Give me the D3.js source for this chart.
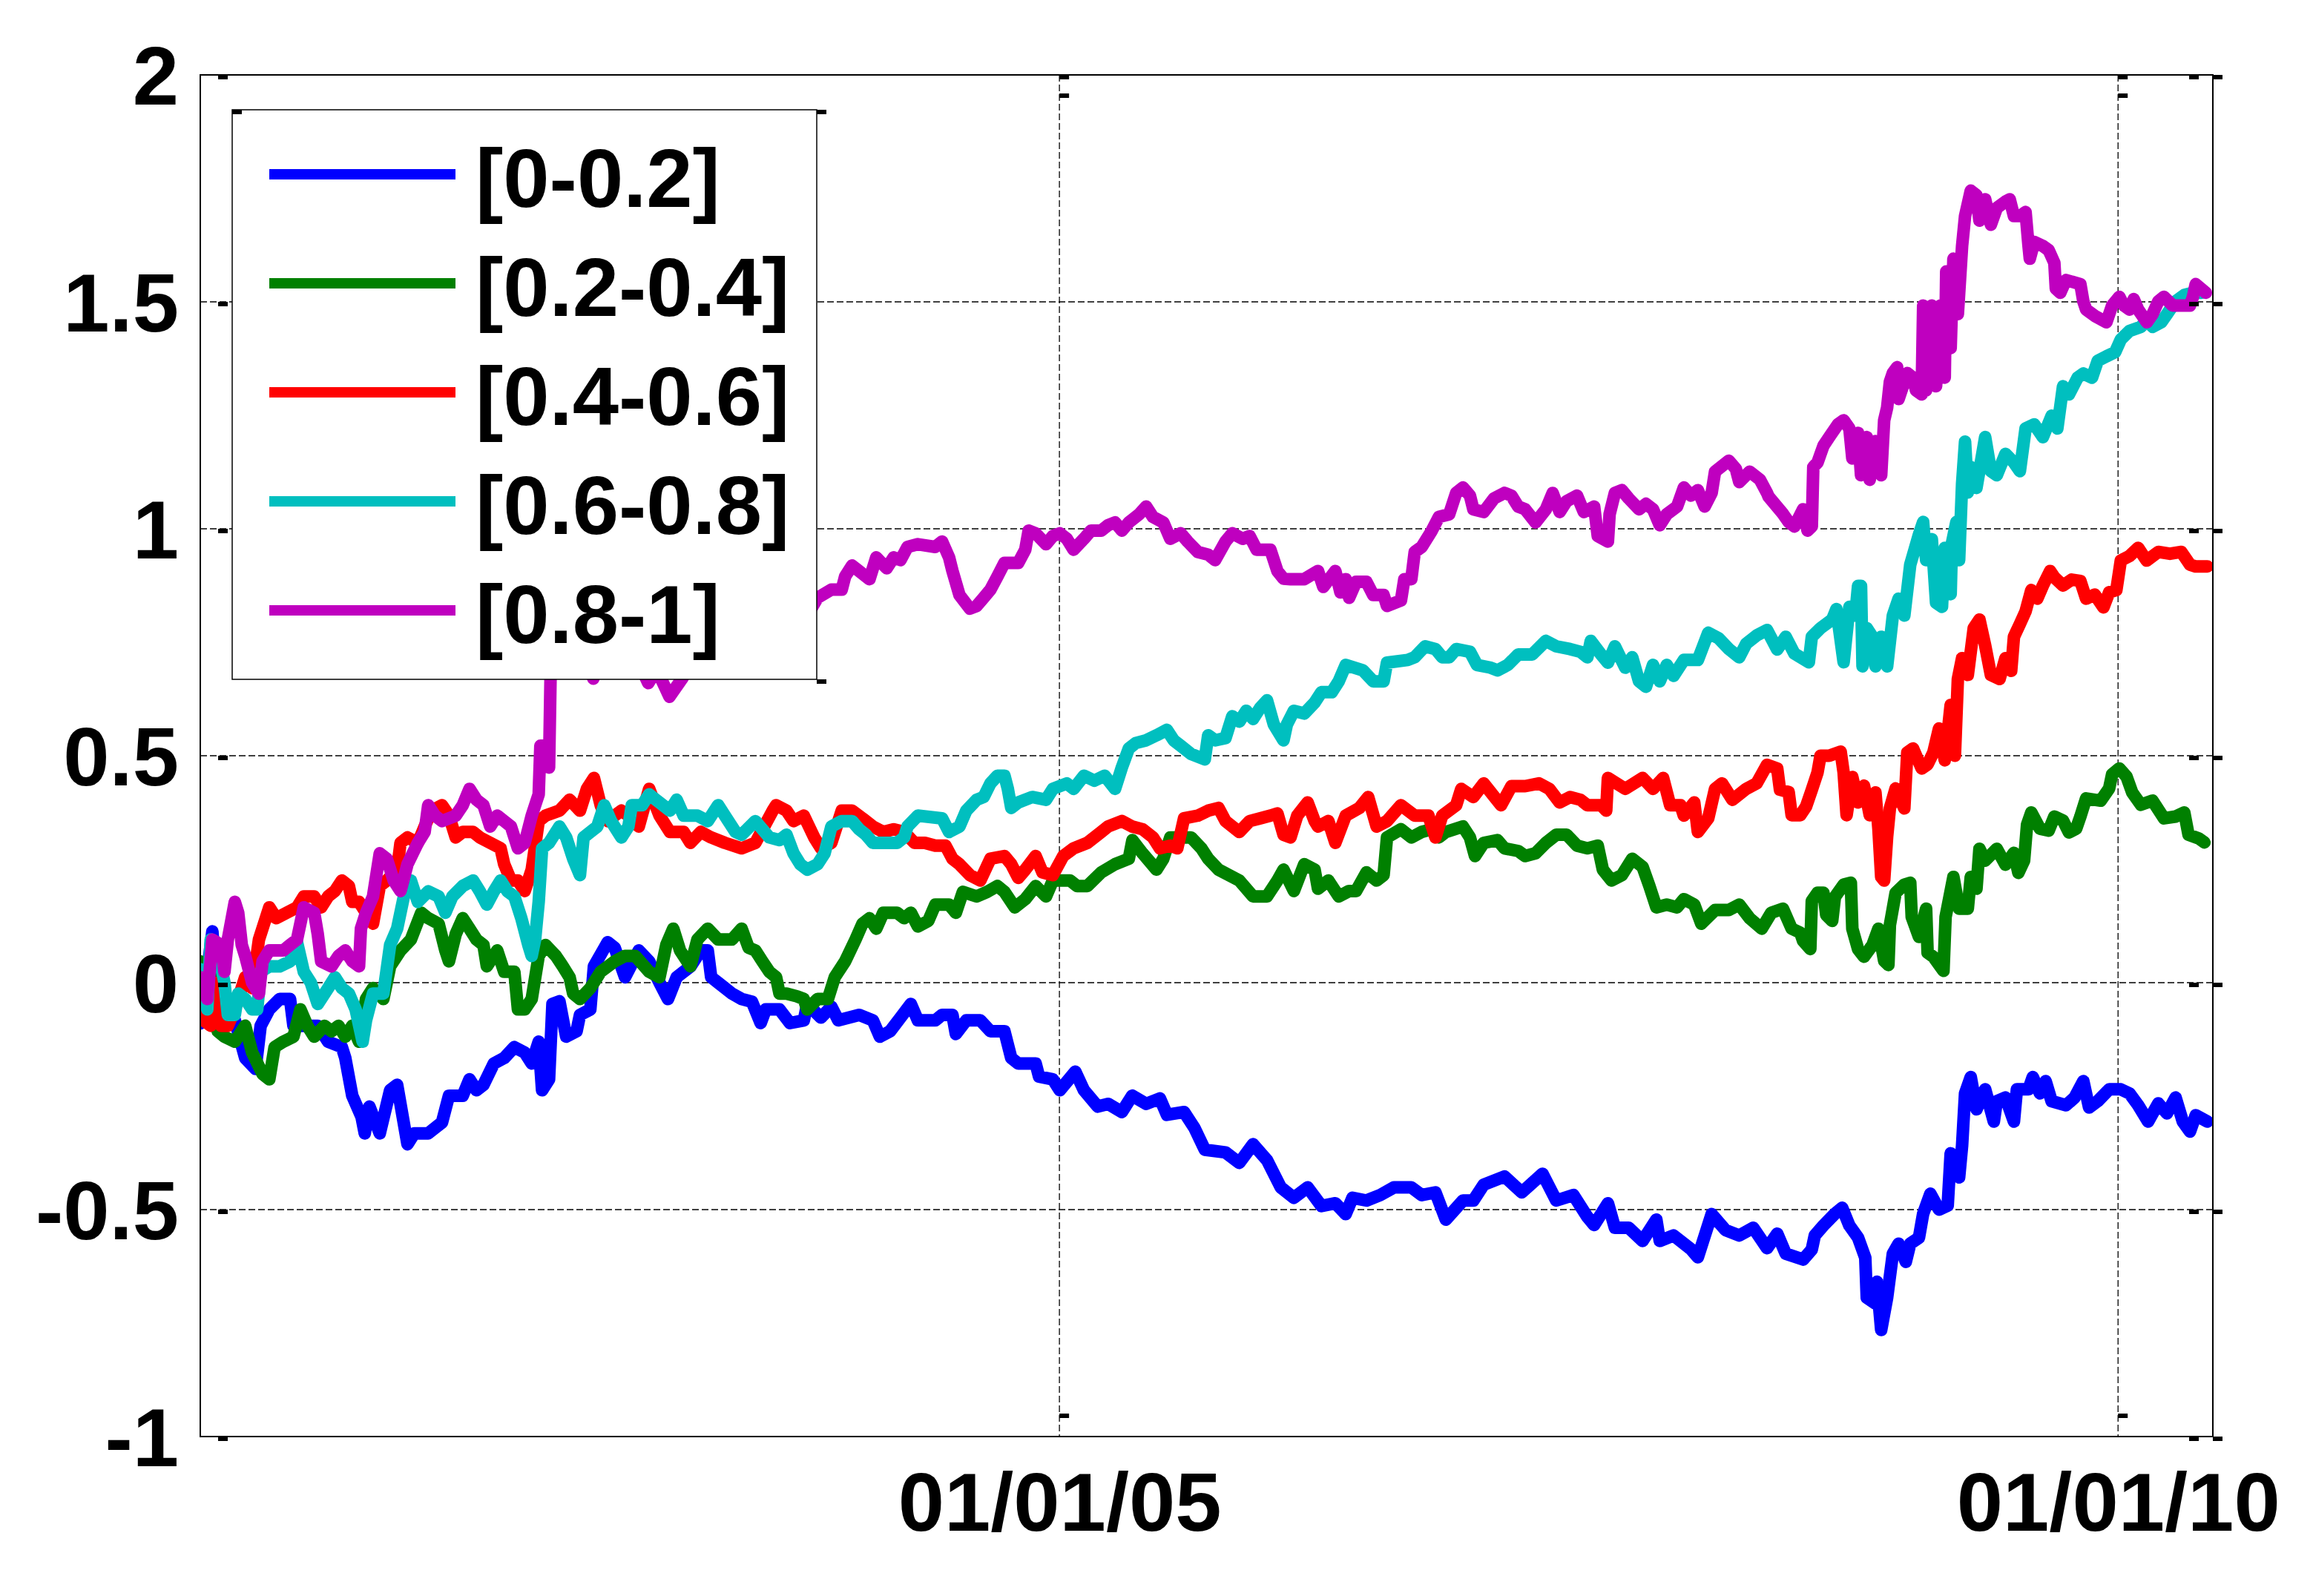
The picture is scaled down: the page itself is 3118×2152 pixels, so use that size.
<!DOCTYPE html>
<html>
<head>
<meta charset="utf-8">
<script src="https://cdn.jsdelivr.net/npm/d3@7"></script>
<style>
  html, body { margin: 0; padding: 0; background: #fff; }
  svg { display: block; }
  text { font-family: "Liberation Sans", Arial, sans-serif; font-weight: bold; }
</style>
</head>
<body>
<svg id="chart"></svg>
<script>
// series names (legend) and colours
var labels = ["[0-0.2]", "[0.2-0.4]", "[0.4-0.6]", "[0.6-0.8]", "[0.8-1]"];
var colors = ["#0000ff", "#008000", "#ff0000", "#00bfbf", "#bf00bf"];

var yTicks = [-1, -0.5, 0, 0.5, 1, 1.5, 2];
var xTicks = ["2005-01-01", "2010-01-01"];
var xStart = 2000.943, xEnd = 2010.448;   // decimal years

// [decimal year, value]
var band_0_02 = [[2000.943,-0.09],[2000.975,0.02],[2001.000,0.113],[2001.033,-0.107],[2001.057,-0.047],[2001.106,-0.083],[2001.155,-0.166],[2001.204,-0.19],[2001.228,-0.095],[2001.269,-0.059],[2001.318,-0.036],[2001.367,-0.036],[2001.383,-0.095],[2001.498,-0.095],[2001.547,-0.13],[2001.612,-0.142],[2001.628,-0.166],[2001.661,-0.249],[2001.705,-0.296],[2001.72,-0.332],[2001.742,-0.273],[2001.791,-0.332],[2001.84,-0.237],[2001.873,-0.225],[2001.922,-0.356],[2001.954,-0.332],[2002.02,-0.332],[2002.085,-0.308],[2002.118,-0.249],[2002.183,-0.249],[2002.215,-0.213],[2002.248,-0.237],[2002.281,-0.225],[2002.33,-0.178],[2002.379,-0.166],[2002.427,-0.142],[2002.476,-0.154],[2002.509,-0.178],[2002.542,-0.13],[2002.558,-0.237],[2002.591,-0.213],[2002.607,-0.047],[2002.64,-0.041],[2002.672,-0.119],[2002.721,-0.107],[2002.737,-0.071],[2002.786,-0.059],[2002.803,0.036],[2002.868,0.089],[2002.901,0.077],[2002.95,0.012],[2003.015,0.071],[2003.064,0.047],[2003.113,0.0],[2003.153,-0.036],[2003.194,0.012],[2003.26,0.036],[2003.308,0.071],[2003.341,0.071],[2003.357,0.012],[2003.39,0.0],[2003.455,-0.024],[2003.501,-0.036],
  [2003.55,-0.042],[2003.591,-0.089],[2003.615,-0.059],[2003.68,-0.059],[2003.729,-0.089],[2003.795,-0.083],[2003.811,-0.047],[2003.876,-0.077],[2003.925,-0.053],[2003.958,-0.083],[2004.056,-0.071],[2004.121,-0.083],[2004.154,-0.119],[2004.202,-0.107],[2004.251,-0.077],[2004.3,-0.047],[2004.333,-0.083],[2004.415,-0.083],[2004.447,-0.071],[2004.496,-0.071],[2004.512,-0.113],[2004.561,-0.083],[2004.627,-0.083],[2004.675,-0.107],[2004.741,-0.107],[2004.773,-0.166],[2004.806,-0.178],[2004.888,-0.178],[2004.904,-0.207],[2004.969,-0.213],[2005.002,-0.237],[2005.075,-0.196],[2005.116,-0.237],[2005.181,-0.273],[2005.23,-0.267],[2005.295,-0.285],[2005.344,-0.249],[2005.41,-0.267],[2005.475,-0.255],[2005.508,-0.291],[2005.589,-0.285],[2005.638,-0.32],[2005.687,-0.368],[2005.785,-0.374],[2005.85,-0.397],[2005.915,-0.356],[2005.981,-0.391],[2006.046,-0.451],
  [2006.108,-0.474],[2006.173,-0.451],[2006.238,-0.492],[2006.304,-0.486],[2006.353,-0.51],[2006.385,-0.474],[2006.451,-0.48],[2006.516,-0.468],[2006.581,-0.451],[2006.663,-0.451],[2006.712,-0.468],[2006.777,-0.462],[2006.826,-0.522],[2006.907,-0.48],[2006.956,-0.48],[2007.005,-0.445],[2007.103,-0.427],[2007.185,-0.462],[2007.283,-0.421],[2007.348,-0.48],[2007.429,-0.468],[2007.495,-0.516],[2007.527,-0.534],[2007.592,-0.486],[2007.625,-0.54],[2007.69,-0.54],[2007.756,-0.569],[2007.821,-0.522],[2007.837,-0.569],[2007.902,-0.557],[2007.984,-0.587],[2008.017,-0.605],[2008.082,-0.51],[2008.147,-0.545],[2008.212,-0.557],[2008.278,-0.54],[2008.343,-0.585],
  [2008.391,-0.553],[2008.431,-0.597],[2008.513,-0.61],[2008.554,-0.588],[2008.568,-0.557],[2008.609,-0.535],[2008.663,-0.509],[2008.697,-0.496],[2008.731,-0.535],[2008.772,-0.562],[2008.806,-0.606],[2008.813,-0.694],[2008.854,-0.707],[2008.861,-0.659],[2008.881,-0.765],[2008.909,-0.694],[2008.936,-0.597],[2008.963,-0.575],[2008.997,-0.615],[2009.018,-0.575],[2009.059,-0.562],[2009.079,-0.509],[2009.113,-0.465],[2009.154,-0.5],[2009.195,-0.491],[2009.209,-0.376],[2009.249,-0.429],[2009.263,-0.359],[2009.277,-0.244],[2009.304,-0.208],[2009.331,-0.279],[2009.372,-0.235],[2009.413,-0.306],[2009.427,-0.261],[2009.468,-0.253],[2009.508,-0.306],[2009.522,-0.235],[2009.577,-0.235],[2009.597,-0.208],[2009.631,-0.244],[2009.658,-0.217],[2009.686,-0.261],[2009.754,-0.27],[2009.795,-0.253],[2009.836,-0.217],[2009.863,-0.275],[2009.904,-0.261],[2009.958,-0.235],[2010.013,-0.235],[2010.054,-0.244],[2010.095,-0.27],[2010.142,-0.306],[2010.19,-0.266],[2010.231,-0.288],[2010.272,-0.253],[2010.306,-0.306],[2010.34,-0.328],[2010.367,-0.292],[2010.422,-0.306]];

var band_02_04 = [[2000.943,0.047],[2000.992,0.02],[2001.025,-0.107],[2001.057,-0.119],[2001.106,-0.13],[2001.155,-0.095],[2001.188,-0.154],[2001.237,-0.201],[2001.269,-0.213],[2001.294,-0.142],[2001.335,-0.13],[2001.383,-0.119],[2001.416,-0.059],[2001.449,-0.095],[2001.481,-0.119],[2001.53,-0.095],[2001.563,-0.107],[2001.596,-0.095],[2001.628,-0.119],[2001.661,-0.095],[2001.693,-0.13],[2001.726,-0.036],[2001.759,-0.012],[2001.808,-0.036],[2001.84,0.036],[2001.889,0.071],[2001.938,0.095],[2001.987,0.154],[2002.02,0.142],[2002.069,0.13],[2002.101,0.071],[2002.118,0.047],[2002.15,0.107],[2002.183,0.142],[2002.215,0.119],[2002.248,0.095],[2002.281,0.083],[2002.297,0.036],[2002.346,0.071],[2002.379,0.024],[2002.427,0.024],[2002.444,-0.059],[2002.476,-0.059],[2002.509,-0.036],[2002.542,0.059],[2002.574,0.083],[2002.623,0.059],[2002.656,0.036],[2002.688,0.012],[2002.705,-0.024],[2002.737,-0.036],[2002.786,-0.012],[2002.835,0.024],[2002.901,0.047],[2002.95,0.059],[2002.998,0.059],[2003.064,0.024],[2003.113,0.012],[2003.145,0.083],[2003.178,0.119],[2003.21,0.071],[2003.259,0.036],[2003.292,0.095],[2003.341,0.119],[2003.39,0.095],[2003.455,0.095],[2003.501,0.119],
  [2003.534,0.077],[2003.566,0.071],[2003.599,0.047],[2003.632,0.024],[2003.664,0.012],[2003.68,-0.024],[2003.713,-0.024],[2003.762,-0.03],[2003.795,-0.036],[2003.811,-0.059],[2003.86,-0.036],[2003.909,-0.036],[2003.941,0.012],[2003.99,0.047],[2004.039,0.095],[2004.072,0.13],[2004.105,0.142],[2004.137,0.119],[2004.17,0.154],[2004.235,0.154],[2004.268,0.142],[2004.3,0.154],[2004.333,0.124],[2004.382,0.136],[2004.415,0.172],[2004.48,0.172],[2004.512,0.154],[2004.545,0.2],[2004.61,0.19],[2004.659,0.2],[2004.708,0.213],[2004.741,0.2],[2004.79,0.166],[2004.839,0.184],[2004.888,0.213],[2004.937,0.19],[2004.969,0.225],[2005.051,0.225],[2005.083,0.213],[2005.132,0.213],[2005.198,0.243],[2005.263,0.261],[2005.328,0.273],[2005.345,0.314],[2005.393,0.285],[2005.459,0.249],[2005.491,0.273],[2005.524,0.32],[2005.573,0.32],[2005.622,0.32],[2005.671,0.296],[2005.703,0.273],[2005.752,0.249],[2005.85,0.225],[2005.915,0.19],[2005.981,0.19],[2006.03,0.225],[2006.059,0.249],
  [2006.108,0.202],[2006.157,0.261],[2006.206,0.249],[2006.222,0.207],[2006.271,0.225],[2006.32,0.19],[2006.369,0.202],[2006.402,0.202],[2006.451,0.243],[2006.499,0.225],[2006.532,0.237],[2006.548,0.32],[2006.614,0.338],[2006.663,0.32],[2006.712,0.332],[2006.76,0.338],[2006.793,0.32],[2006.826,0.332],[2006.907,0.344],[2006.94,0.32],[2006.964,0.279],[2007.005,0.308],[2007.07,0.314],[2007.103,0.296],[2007.168,0.29],[2007.201,0.279],[2007.25,0.285],[2007.299,0.308],[2007.348,0.326],[2007.397,0.326],[2007.446,0.302],[2007.495,0.296],[2007.544,0.302],[2007.568,0.249],[2007.609,0.225],[2007.658,0.237],[2007.707,0.273],[2007.756,0.255],[2007.788,0.213],[2007.821,0.166],[2007.87,0.172],[2007.919,0.166],[2007.951,0.184],[2008.0,0.172],[2008.033,0.13],[2008.098,0.16],[2008.163,0.16],[2008.212,0.172],[2008.261,0.142],[2008.318,0.119],
  [2008.363,0.154],[2008.418,0.163],[2008.459,0.119],[2008.5,0.11],[2008.513,0.092],[2008.547,0.074],[2008.554,0.18],[2008.581,0.198],[2008.609,0.198],[2008.622,0.149],[2008.65,0.136],[2008.663,0.189],[2008.704,0.216],[2008.738,0.22],[2008.745,0.119],[2008.772,0.074],[2008.8,0.057],[2008.84,0.083],[2008.868,0.119],[2008.895,0.048],[2008.915,0.039],[2008.922,0.127],[2008.949,0.198],[2008.99,0.216],[2009.018,0.22],[2009.025,0.145],[2009.059,0.101],[2009.093,0.163],[2009.1,0.066],[2009.127,0.057],[2009.175,0.026],[2009.185,0.145],[2009.222,0.233],[2009.249,0.163],[2009.29,0.163],[2009.304,0.233],[2009.331,0.207],[2009.345,0.295],[2009.372,0.269],[2009.427,0.295],[2009.468,0.26],[2009.508,0.286],[2009.529,0.242],[2009.556,0.269],[2009.57,0.348],[2009.59,0.375],[2009.631,0.339],[2009.672,0.335],[2009.699,0.366],[2009.74,0.357],[2009.768,0.331],[2009.802,0.339],[2009.822,0.366],[2009.849,0.406],[2009.918,0.401],[2009.958,0.428],[2009.972,0.459],[2010.006,0.472],[2010.04,0.454],[2010.067,0.419],[2010.108,0.392],[2010.163,0.401],[2010.217,0.362],[2010.272,0.366],[2010.313,0.375],[2010.333,0.326],[2010.381,0.318],[2010.408,0.309]];

var band_04_06 = [[2000.943,-0.06],[2000.959,-0.083],[2000.992,-0.095],[2001.025,0.0],[2001.041,-0.095],[2001.073,-0.095],[2001.106,-0.059],[2001.155,0.012],[2001.188,-0.012],[2001.22,0.095],[2001.269,0.166],[2001.302,0.142],[2001.351,0.154],[2001.4,0.166],[2001.432,0.19],[2001.481,0.19],[2001.514,0.166],[2001.547,0.19],[2001.579,0.202],[2001.612,0.225],[2001.645,0.213],[2001.661,0.178],[2001.693,0.178],[2001.726,0.154],[2001.759,0.13],[2001.791,0.213],[2001.824,0.225],[2001.873,0.249],[2001.889,0.308],[2001.922,0.32],[2001.971,0.308],[2002.003,0.344],[2002.036,0.379],[2002.085,0.391],[2002.118,0.368],[2002.15,0.32],[2002.183,0.332],[2002.232,0.332],[2002.264,0.32],[2002.313,0.308],[2002.362,0.296],[2002.379,0.261],[2002.411,0.225],[2002.444,0.225],[2002.476,0.202],[2002.509,0.249],[2002.542,0.356],[2002.574,0.368],[2002.64,0.379],[2002.688,0.403],[2002.737,0.379],[2002.77,0.427],[2002.803,0.451],[2002.835,0.391],[2002.868,0.356],[2002.901,0.368],[2002.933,0.379],[2002.966,0.368],[2003.015,0.344],[2003.064,0.427],[2003.113,0.368],[2003.162,0.332],[2003.227,0.332],[2003.259,0.308],[2003.308,0.332],[2003.357,0.32],[2003.422,0.308],[2003.501,0.296],
  [2003.566,0.308],[2003.648,0.379],[2003.664,0.391],[2003.713,0.379],[2003.746,0.356],[2003.795,0.368],[2003.844,0.32],[2003.876,0.296],[2003.925,0.308],[2003.974,0.379],[2004.023,0.379],[2004.072,0.362],[2004.121,0.344],[2004.17,0.332],[2004.219,0.338],[2004.268,0.332],[2004.317,0.308],[2004.366,0.308],[2004.415,0.302],[2004.463,0.302],[2004.496,0.273],[2004.529,0.261],[2004.578,0.237],[2004.627,0.225],[2004.675,0.273],[2004.741,0.279],[2004.773,0.261],[2004.806,0.231],[2004.839,0.249],[2004.888,0.279],[2004.92,0.243],[2004.969,0.237],[2005.018,0.279],[2005.067,0.296],[2005.132,0.308],[2005.198,0.332],[2005.23,0.344],[2005.295,0.356],[2005.344,0.344],[2005.393,0.338],[2005.442,0.32],[2005.475,0.296],[2005.524,0.302],[2005.557,0.296],[2005.589,0.362],[2005.654,0.368],[2005.703,0.379],[2005.752,0.385],[2005.785,0.356],[2005.85,0.332],[2005.899,0.356],[2005.948,0.362],[2005.997,0.368],[2006.03,0.373],[2006.059,0.326],
  [2006.092,0.32],[2006.124,0.368],[2006.173,0.397],[2006.206,0.356],[2006.222,0.344],[2006.271,0.356],[2006.304,0.308],[2006.353,0.368],[2006.418,0.385],[2006.459,0.409],[2006.499,0.344],[2006.548,0.356],[2006.614,0.391],[2006.679,0.368],[2006.744,0.368],[2006.777,0.32],[2006.809,0.368],[2006.875,0.391],[2006.899,0.427],[2006.956,0.409],[2007.005,0.439],[2007.087,0.391],[2007.136,0.433],[2007.201,0.433],[2007.266,0.439],[2007.315,0.427],[2007.364,0.397],[2007.413,0.409],[2007.462,0.403],[2007.495,0.391],[2007.56,0.391],[2007.584,0.379],[2007.592,0.451],[2007.674,0.427],[2007.756,0.451],[2007.805,0.427],[2007.853,0.451],[2007.886,0.391],[2007.935,0.391],[2007.951,0.368],[2008.0,0.397],[2008.017,0.332],[2008.066,0.362],[2008.098,0.427],[2008.131,0.439],[2008.18,0.403],[2008.245,0.427],[2008.294,0.439],[2008.343,0.48],
  [2008.391,0.472],[2008.404,0.425],[2008.445,0.42],[2008.459,0.369],[2008.5,0.369],[2008.527,0.388],[2008.554,0.425],[2008.581,0.463],[2008.595,0.5],[2008.636,0.5],[2008.69,0.509],[2008.704,0.463],[2008.718,0.369],[2008.745,0.453],[2008.772,0.397],[2008.8,0.434],[2008.827,0.369],[2008.854,0.419],[2008.868,0.339],[2008.881,0.233],[2008.895,0.225],[2008.909,0.322],[2008.922,0.384],[2008.949,0.428],[2008.99,0.384],[2009.004,0.507],[2009.031,0.516],[2009.072,0.472],[2009.1,0.481],[2009.127,0.507],[2009.154,0.56],[2009.181,0.49],[2009.209,0.612],[2009.229,0.5],[2009.243,0.669],[2009.263,0.715],[2009.29,0.678],[2009.318,0.781],[2009.345,0.8],[2009.372,0.743],[2009.399,0.678],[2009.44,0.669],[2009.468,0.715],[2009.495,0.687],[2009.508,0.762],[2009.536,0.79],[2009.563,0.818],[2009.59,0.865],[2009.618,0.846],[2009.645,0.875],[2009.679,0.907],[2009.699,0.893],[2009.74,0.875],[2009.781,0.888],[2009.822,0.885],[2009.849,0.846],[2009.89,0.855],[2009.931,0.827],[2009.958,0.86],[2009.992,0.865],[2010.013,0.93],[2010.054,0.94],[2010.095,0.958],[2010.135,0.93],[2010.19,0.949],[2010.245,0.945],[2010.299,0.949],[2010.34,0.921],[2010.367,0.917],[2010.422,0.917]];

var band_06_08 = [[2000.943,0.03],[2000.976,-0.059],[2000.992,0.095],[2001.025,0.071],[2001.057,0.0],[2001.073,-0.071],[2001.106,-0.071],[2001.122,-0.024],[2001.155,-0.036],[2001.188,-0.059],[2001.212,-0.059],[2001.228,0.024],[2001.269,0.036],[2001.318,0.036],[2001.367,0.047],[2001.4,0.089],[2001.432,0.024],[2001.465,0.0],[2001.498,-0.047],[2001.547,-0.012],[2001.579,0.012],[2001.612,-0.012],[2001.645,-0.024],[2001.677,-0.059],[2001.71,-0.13],[2001.726,-0.083],[2001.759,-0.024],[2001.808,-0.024],[2001.84,0.083],[2001.873,0.119],[2001.905,0.19],[2001.938,0.225],[2001.971,0.178],[2002.02,0.201],[2002.069,0.19],[2002.101,0.154],[2002.134,0.19],[2002.183,0.213],[2002.232,0.225],[2002.264,0.201],[2002.297,0.172],[2002.33,0.201],[2002.362,0.225],[2002.395,0.201],[2002.427,0.19],[2002.46,0.142],[2002.493,0.083],[2002.509,0.059],[2002.525,0.095],[2002.542,0.178],[2002.558,0.296],[2002.591,0.308],[2002.64,0.344],[2002.672,0.32],[2002.705,0.273],[2002.737,0.237],[2002.754,0.32],[2002.786,0.332],[2002.819,0.344],[2002.852,0.391],[2002.884,0.356],[2002.933,0.32],[2002.966,0.344],[2002.982,0.391],[2003.031,0.391],[2003.064,0.415],[2003.096,0.403],[2003.162,0.379],[2003.194,0.403],[2003.227,0.368],[2003.292,0.368],[2003.341,0.356],[2003.39,0.391],[2003.422,0.368],[2003.472,0.332],[2003.501,0.326],
  [2003.566,0.356],[2003.632,0.32],[2003.68,0.314],[2003.713,0.326],[2003.746,0.285],[2003.778,0.261],[2003.811,0.249],[2003.86,0.261],[2003.893,0.285],[2003.925,0.344],[2003.974,0.356],[2004.023,0.356],[2004.056,0.338],[2004.088,0.326],[2004.121,0.308],[2004.235,0.308],[2004.268,0.32],[2004.284,0.344],[2004.333,0.368],[2004.447,0.362],[2004.48,0.332],[2004.529,0.344],[2004.561,0.379],[2004.61,0.403],[2004.643,0.409],[2004.675,0.439],[2004.708,0.456],[2004.741,0.456],[2004.757,0.427],[2004.773,0.385],[2004.806,0.397],[2004.872,0.409],[2004.937,0.403],[2004.969,0.427],[2005.035,0.439],[2005.067,0.427],[2005.116,0.456],[2005.165,0.445],[2005.214,0.456],[2005.263,0.427],[2005.295,0.474],[2005.328,0.516],[2005.361,0.528],[2005.41,0.534],[2005.459,0.545],[2005.508,0.557],[2005.54,0.534],[2005.573,0.522],[2005.622,0.504],[2005.687,0.492],[2005.703,0.545],[2005.736,0.534],[2005.785,0.539],[2005.817,0.587],[2005.85,0.575],[2005.883,0.599],[2005.915,0.581],[2005.948,0.605],[2005.981,0.622],[2006.013,0.569],[2006.059,0.534],
  [2006.075,0.569],[2006.108,0.599],[2006.157,0.593],[2006.206,0.617],[2006.238,0.64],[2006.287,0.64],[2006.32,0.664],[2006.353,0.7],[2006.434,0.688],[2006.483,0.664],[2006.532,0.664],[2006.548,0.705],[2006.646,0.711],[2006.679,0.717],[2006.728,0.741],[2006.777,0.735],[2006.809,0.717],[2006.842,0.717],[2006.875,0.735],[2006.94,0.729],[2006.973,0.7],[2007.038,0.694],[2007.07,0.688],[2007.119,0.7],[2007.168,0.723],[2007.234,0.723],[2007.299,0.753],[2007.348,0.741],[2007.413,0.735],[2007.462,0.729],[2007.495,0.717],[2007.511,0.753],[2007.56,0.723],[2007.592,0.705],[2007.625,0.741],[2007.674,0.694],[2007.707,0.717],[2007.739,0.664],[2007.772,0.652],[2007.805,0.7],[2007.837,0.664],[2007.87,0.7],[2007.902,0.676],[2007.951,0.711],[2008.017,0.711],[2008.066,0.771],[2008.114,0.759],[2008.163,0.735],[2008.212,0.717],[2008.245,0.747],[2008.294,0.765],[2008.343,0.777],
  [2008.391,0.734],[2008.431,0.762],[2008.472,0.725],[2008.54,0.706],[2008.554,0.762],[2008.595,0.781],[2008.65,0.8],[2008.67,0.823],[2008.704,0.706],[2008.731,0.828],[2008.759,0.809],[2008.772,0.874],[2008.786,0.874],[2008.793,0.697],[2008.813,0.781],[2008.84,0.762],[2008.854,0.697],[2008.881,0.762],[2008.909,0.697],[2008.936,0.809],[2008.963,0.846],[2008.99,0.809],[2009.018,0.921],[2009.059,0.987],[2009.079,1.015],[2009.093,0.931],[2009.12,0.977],[2009.14,0.837],[2009.168,0.828],[2009.181,0.958],[2009.209,0.856],[2009.215,0.968],[2009.236,1.015],[2009.249,0.931],[2009.263,1.099],[2009.277,1.192],[2009.29,1.08],[2009.304,1.136],[2009.331,1.09],[2009.372,1.202],[2009.399,1.127],[2009.427,1.118],[2009.468,1.165],[2009.508,1.146],[2009.536,1.127],[2009.563,1.221],[2009.604,1.23],[2009.645,1.202],[2009.686,1.249],[2009.713,1.221],[2009.74,1.314],[2009.768,1.296],[2009.809,1.333],[2009.836,1.342],[2009.877,1.333],[2009.904,1.37],[2009.945,1.38],[2009.986,1.389],[2010.013,1.417],[2010.054,1.436],[2010.108,1.445],[2010.136,1.459],[2010.163,1.445],[2010.204,1.455],[2010.231,1.473],[2010.272,1.501],[2010.313,1.515],[2010.354,1.52],[2010.395,1.52]];

var band_08_1 = [[2000.943,0.012],[2000.976,-0.036],[2001.000,0.095],[2001.041,0.083],[2001.057,0.024],[2001.073,0.095],[2001.106,0.178],[2001.122,0.154],[2001.139,0.083],[2001.155,0.059],[2001.188,0.0],[2001.22,-0.024],[2001.237,0.047],[2001.269,0.071],[2001.335,0.071],[2001.367,0.083],[2001.4,0.095],[2001.432,0.166],[2001.481,0.154],[2001.498,0.107],[2001.514,0.047],[2001.563,0.036],[2001.596,0.059],[2001.628,0.071],[2001.661,0.047],[2001.693,0.036],[2001.702,0.119],[2001.726,0.154],[2001.759,0.19],[2001.791,0.285],[2001.824,0.273],[2001.857,0.225],[2001.889,0.202],[2001.922,0.261],[2001.971,0.308],[2002.003,0.332],[2002.02,0.391],[2002.052,0.368],[2002.085,0.356],[2002.15,0.368],[2002.183,0.391],[2002.215,0.427],[2002.248,0.403],[2002.281,0.391],[2002.313,0.344],[2002.346,0.368],[2002.379,0.356],[2002.411,0.344],[2002.444,0.296],[2002.476,0.308],[2002.509,0.368],[2002.542,0.415],[2002.55,0.522],[2002.574,0.522],[2002.591,0.474],[2002.599,0.70],
  [2002.62,0.82],[2002.68,0.88],[2002.74,0.78],[2002.80,0.67],[2002.85,0.74],[2002.95,0.76],[2003.02,0.70],[2003.06,0.66],[2003.10,0.69],[2003.16,0.63],[2003.22,0.67],[2003.30,0.74],[2003.40,0.78],[2003.50,0.76],[2003.60,0.80],[2003.70,0.82],[2003.80,0.80],
  [2003.86,0.848],[2003.925,0.866],[2003.974,0.866],[2003.99,0.895],[2004.023,0.919],[2004.072,0.901],[2004.105,0.889],[2004.137,0.937],[2004.186,0.913],[2004.219,0.937],[2004.251,0.931],[2004.284,0.96],[2004.333,0.966],[2004.415,0.96],[2004.447,0.972],[2004.48,0.937],[2004.496,0.907],[2004.529,0.854],[2004.578,0.824],[2004.61,0.83],[2004.643,0.848],[2004.675,0.866],[2004.708,0.895],[2004.741,0.925],[2004.806,0.925],[2004.839,0.954],[2004.855,0.996],[2004.888,0.99],[2004.937,0.966],[2004.969,0.984],[2005.002,0.99],[2005.035,0.978],[2005.067,0.954],[2005.116,0.978],[2005.149,0.996],[2005.198,0.996],[2005.23,1.008],[2005.263,1.014],[2005.295,0.996],[2005.328,1.014],[2005.377,1.032],[2005.41,1.049],[2005.442,1.026],[2005.491,1.014],[2005.524,0.978],[2005.573,0.99],[2005.606,0.972],[2005.654,0.949],[2005.703,0.943],[2005.736,0.931],[2005.785,0.972],[2005.817,0.99],[2005.866,0.978],[2005.899,0.984],[2005.932,0.954],[2005.997,0.954],[2006.03,0.907],[2006.059,0.89],
  [2006.092,0.889],[2006.157,0.889],[2006.222,0.907],[2006.247,0.872],[2006.304,0.907],[2006.328,0.86],[2006.353,0.889],[2006.369,0.848],[2006.402,0.883],[2006.451,0.883],[2006.483,0.854],[2006.532,0.854],[2006.548,0.83],[2006.614,0.842],[2006.63,0.889],[2006.663,0.889],[2006.679,0.949],[2006.712,0.96],[2006.76,0.996],[2006.793,1.026],[2006.842,1.032],[2006.875,1.079],[2006.907,1.091],[2006.94,1.073],[2006.956,1.043],[2007.005,1.037],[2007.054,1.067],[2007.103,1.079],[2007.136,1.073],[2007.168,1.049],[2007.201,1.043],[2007.25,1.014],[2007.299,1.043],[2007.331,1.079],[2007.364,1.037],[2007.397,1.061],[2007.446,1.073],[2007.478,1.037],[2007.527,1.049],[2007.544,0.984],[2007.592,0.972],[2007.6,1.032],[2007.625,1.079],[2007.658,1.085],[2007.69,1.067],[2007.739,1.043],[2007.772,1.055],[2007.805,1.043],[2007.837,1.008],[2007.87,1.032],[2007.919,1.049],[2007.951,1.091],[2007.984,1.073],[2008.017,1.085],[2008.049,1.049],[2008.082,1.079],[2008.098,1.126],[2008.163,1.15],[2008.196,1.132],[2008.212,1.103],[2008.261,1.126],[2008.31,1.108],[2008.343,1.079],
  [2008.35,1.071],[2008.418,1.033],[2008.445,1.015],[2008.472,1.005],[2008.513,1.043],[2008.534,0.996],[2008.554,1.005],[2008.561,1.136],[2008.581,1.146],[2008.609,1.183],[2008.636,1.202],[2008.677,1.23],[2008.704,1.239],[2008.731,1.221],[2008.745,1.155],[2008.772,1.211],[2008.786,1.118],[2008.813,1.202],[2008.827,1.108],[2008.854,1.193],[2008.881,1.118],[2008.895,1.239],[2008.909,1.267],[2008.922,1.324],[2008.936,1.343],[2008.956,1.356],[2008.963,1.286],[2009.004,1.343],[2009.031,1.333],[2009.045,1.305],[2009.072,1.296],[2009.079,1.492],[2009.093,1.305],[2009.12,1.492],[2009.14,1.314],[2009.161,1.492],[2009.181,1.333],[2009.188,1.567],[2009.209,1.398],[2009.222,1.595],[2009.243,1.473],[2009.263,1.623],[2009.277,1.689],[2009.304,1.745],[2009.331,1.735],[2009.345,1.679],[2009.372,1.726],[2009.399,1.67],[2009.427,1.707],[2009.468,1.721],[2009.488,1.726],[2009.508,1.689],[2009.536,1.689],[2009.563,1.698],[2009.577,1.623],[2009.583,1.595],[2009.604,1.632],[2009.645,1.623],[2009.672,1.614],[2009.699,1.586],[2009.706,1.529],[2009.727,1.52],[2009.754,1.548],[2009.822,1.539],[2009.836,1.501],[2009.849,1.483],[2009.89,1.469],[2009.945,1.455],[2009.972,1.492],[2010.006,1.511],[2010.027,1.492],[2010.054,1.483],[2010.074,1.506],[2010.095,1.483],[2010.136,1.455],[2010.163,1.473],[2010.19,1.501],[2010.217,1.511],[2010.258,1.492],[2010.34,1.492],[2010.354,1.511],[2010.367,1.539],[2010.415,1.52]];

var allSeries = [band_0_02, band_02_04, band_04_06, band_06_08, band_08_1];

var W = 3118, H = 2152;
var margin = {left: 270, right: 3118 - 2983, top: 101, bottom: 2152 - 1937};
var fontSize = 112;

function yearToDate(y) {
    var yr = Math.floor(y);
    var a = Date.UTC(yr, 0, 1), b = Date.UTC(yr + 1, 0, 1);
    return new Date(a + (y - yr) * (b - a));
}

var svg = d3.select("#chart").attr("width", W).attr("height", H);
svg.append("rect").attr("width", W).attr("height", H).attr("fill", "#fff");

var x = d3.scaleUtc()
    .domain([yearToDate(xStart), yearToDate(xEnd)])
    .range([margin.left, W - margin.right]);
var y = d3.scaleLinear()
    .domain([-1, 2])
    .range([H - margin.bottom, margin.top]);

var xTickDates = xTicks.map(function(s) { return new Date(s + "T00:00:00Z"); });

// dotted grid
var grid = svg.append("g").attr("class", "grid")
    .attr("stroke", "#000").attr("stroke-width", 1.3).attr("stroke-dasharray", "9,4");
grid.selectAll("line.h")
    .data(yTicks.filter(function(d) { return d > -1 && d < 2; }))
    .enter().append("line")
    .attr("x1", x.range()[0]).attr("x2", x.range()[1])
    .attr("y1", function(d) { return y(d); })
    .attr("y2", function(d) { return y(d); });
grid.selectAll("line.v")
    .data(xTickDates)
    .enter().append("line")
    .attr("x1", function(d) { return x(d); }).attr("x2", function(d) { return x(d); })
    .attr("y1", y.range()[1]).attr("y2", y.range()[0]);

// lines
svg.append("clipPath").attr("id", "plotclip")
    .append("rect")
    .attr("x", x.range()[0]).attr("y", y.range()[1])
    .attr("width", x.range()[1] - x.range()[0])
    .attr("height", y.range()[0] - y.range()[1]);

var line = d3.line()
    .x(function(d) { return x(yearToDate(d[0])); })
    .y(function(d) { return y(d[1]); });

svg.append("g").attr("clip-path", "url(#plotclip)")
    .selectAll("path")
    .data(allSeries)
    .enter().append("path")
    .attr("d", line)
    .attr("fill", "none")
    .attr("stroke", function(d, i) { return colors[i]; })
    .attr("stroke-width", 17)
    .attr("stroke-linejoin", "round")
    .attr("stroke-linecap", "round");

// frame
svg.append("rect")
    .attr("x", x.range()[0]).attr("y", y.range()[1])
    .attr("width", x.range()[1] - x.range()[0])
    .attr("height", y.range()[0] - y.range()[1])
    .attr("fill", "none").attr("stroke", "#000").attr("stroke-width", 2);

// small tick marks (drawn as little blocks like the export)
var marks = svg.append("g").attr("fill", "#000");
yTicks.forEach(function(d) {
    [x.range()[0] + 24, x.range()[1] - 32, x.range()[1]].forEach(function(px) {
        marks.append("rect").attr("x", px).attr("y", y(d)).attr("width", 13).attr("height", 6);
    });
});
xTickDates.forEach(function(d) {
    marks.append("rect").attr("x", x(d)).attr("y", y.range()[0] - 31).attr("width", 13).attr("height", 6);
    marks.append("rect").attr("x", x(d)).attr("y", y.range()[1]).attr("width", 13).attr("height", 6);
    marks.append("rect").attr("x", x(d)).attr("y", y.range()[1] + 25).attr("width", 13).attr("height", 6);
});

// axes (labels only)
var yAxis = d3.axisLeft(y).tickValues(yTicks).tickSize(0).tickPadding(29)
    .tickFormat(function(d) { return String(d); });
var gy = svg.append("g").attr("transform", "translate(" + x.range()[0] + ",0)").call(yAxis);

var xAxis = d3.axisBottom(x).tickValues(xTickDates).tickSize(0).tickPadding(47)
    .tickFormat(d3.utcFormat("%m/%d/%y"));
var gx = svg.append("g").attr("transform", "translate(0," + y.range()[0] + ")").call(xAxis);

[gx, gy].forEach(function(g) {
    g.select(".domain").remove();
    g.selectAll("text")
        .attr("fill", "#000")
        .style("font-family", "'Liberation Sans', Arial, sans-serif")
        .style("font-weight", "bold")
        .style("font-size", fontSize + "px");
});
gy.selectAll("text").attr("dy", "0.35em");

// legend
var legend = svg.append("g").attr("class", "legend");
var lgX = 313, lgY = 148, lgW = 788, lgH = 768, rowH = 147, firstRow = 235;
legend.append("rect")
    .attr("x", lgX).attr("y", lgY).attr("width", lgW).attr("height", lgH)
    .attr("fill", "#fff").attr("stroke", "#000").attr("stroke-width", 1.5);
[[lgX, lgY], [lgX + lgW, lgY], [lgX + lgW, lgY + lgH]].forEach(function(p) {
    legend.append("rect").attr("x", p[0]).attr("y", p[1]).attr("width", 13).attr("height", 6).attr("fill", "#000");
});
var rows = legend.selectAll("g.row")
    .data(labels)
    .enter().append("g")
    .attr("transform", function(d, i) { return "translate(0," + (firstRow + i * rowH) + ")"; });
rows.append("line")
    .attr("x1", 363).attr("x2", 614)
    .attr("stroke", function(d, i) { return colors[i]; })
    .attr("stroke-width", 14);
rows.append("text")
    .attr("x", 641).attr("y", 44)
    .attr("font-size", fontSize)
    .attr("fill", "#000")
    .text(function(d) { return d; });
</script>
</body>
</html>
